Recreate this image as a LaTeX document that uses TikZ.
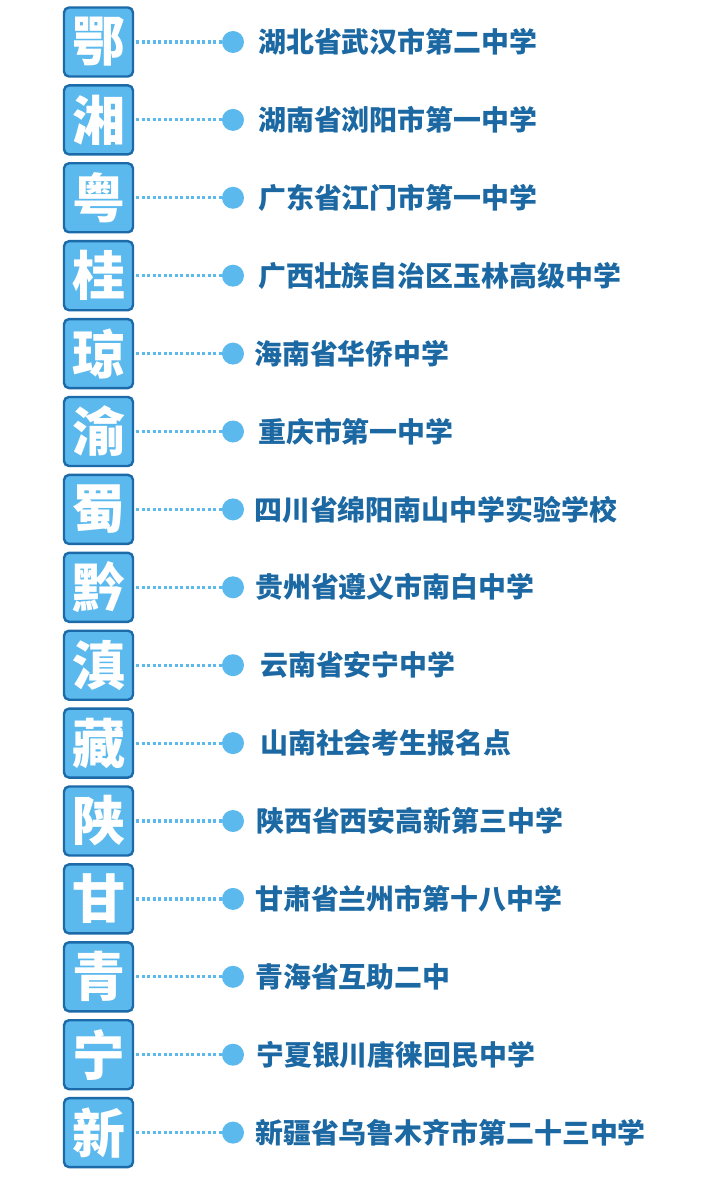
\documentclass[tikz,border=0pt]{standalone}
\usepackage{fontspec}
\newfontfamily\cjk{Noto Sans CJK SC}
\definecolor{boxfill}{HTML}{5BB9EE}
\definecolor{boxline}{HTML}{1C6AA8}
\definecolor{txt}{HTML}{1B68A3}
\definecolor{dotc}{HTML}{5BB9EE}
\tikzset{
  prov/.style={draw=boxline, fill=boxfill, line width=2.4pt, rounded corners=5pt,
    minimum width=69pt, minimum height=69pt, inner sep=0pt, text=white,
    font=\cjk\bfseries\fontsize{53}{53}\selectfont},
  bullet/.style={circle, fill=dotc, minimum size=22pt, inner sep=0pt},
  school/.style={anchor=west, inner sep=0pt, text=txt, font=\cjk\bfseries\fontsize{27.9}{28}\selectfont},
  link/.style={draw=dotc, line width=3.2pt, dash pattern=on 2.8pt off 2.7pt}
}
\begin{document}
\begin{tikzpicture}[x=1pt,y=-1pt]
\useasboundingbox (0,0) rectangle (720,1182);
\foreach \i/\p/\s/\tx in {
 0/鄂/湖北省武汉市第二中学/258,
 1/湘/湖南省浏阳市第一中学/258,
 2/粤/广东省江门市第一中学/258,
 3/桂/广西壮族自治区玉林高级中学/258,
 4/琼/海南省华侨中学/254,
 5/渝/重庆市第一中学/258,
 6/蜀/四川省绵阳南山中学实验学校/254,
 7/黔/贵州省遵义市南白中学/255,
 8/滇/云南省安宁中学/260,
 9/藏/山南社会考生报名点/260,
 10/陕/陕西省西安高新第三中学/256,
 11/甘/甘肃省兰州市第十八中学/255,
 12/青/青海省互助二中/255,
 13/宁/宁夏银川唐徕回民中学/256,
 14/新/新疆省乌鲁木齐市第二十三中学/255}{
  \pgfmathsetmacro{\yy}{42+77.9*\i}
  \node[prov] (p\i) at (98.5,\yy) {\p};
  \node[bullet] (b\i) at (233,\yy) {};
  \node[school] (s\i) at (\tx,\yy) {\s};
  \draw[link] (p\i.east) ++(2,0) coordinate (c\i) -- (b\i.west);
}
\end{tikzpicture}
\end{document}
